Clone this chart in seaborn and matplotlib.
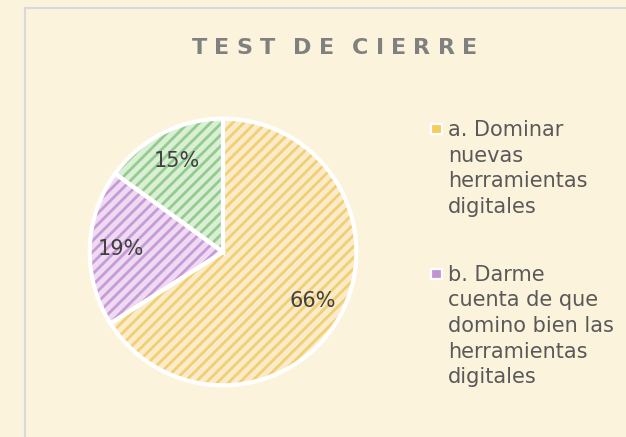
import matplotlib
matplotlib.use("Agg")
import matplotlib.pyplot as plt
import seaborn as sns
from matplotlib.lines import Line2D
from matplotlib.patches import Rectangle
from matplotlib.legend_handler import HandlerBase
from matplotlib.font_manager import FontProperties

sns.set_style("white")
plt.rcParams['font.family'] = ['DejaVu Sans']
plt.rcParams['hatch.linewidth'] = 2.0

# ---- data ----
title = "TEST DE CIERRE"
categories = ["a. Dominar\nnuevas\nherramientas\ndigitales",
              "b. Darme\ncuenta de que\ndomino bien las\nherramientas\ndigitales",
              "c."]
values = [66, 19, 15]
legend_shown = 2

face_colors = ["#FBEBCB", "#EEDBF1", "#DAEFD6"]
hatch_colors = ["#F0D070", "#C79AD8", "#94CC8E"]
marker_colors = ["#F5CB5C", "#C293D2", "#94CB8F"]
bg = "#FCF3DC"
LS = 1.35  # legend line spacing

W, H = 626, 437
fig = plt.figure(figsize=(W / 100, H / 100), dpi=100)
fig.patch.set_facecolor(bg)

# outer border (left/top visible)
fig.add_artist(Line2D([25 / W, 25 / W], [0, 1 - 8 / H], color="#D9D9D9", lw=1.5, transform=fig.transFigure))
fig.add_artist(Line2D([25 / W, 1], [1 - 8 / H, 1 - 8 / H], color="#D9D9D9", lw=1.5, transform=fig.transFigure))

# pie axes
cx, cy, r = 223, 252, 136
ax = fig.add_axes([(cx - r) / W, (H - cy - r) / H, 2 * r / W, 2 * r / H])
ax.set_facecolor("none")
wedges, texts, autotexts = ax.pie(
    values, startangle=90, counterclock=False, autopct="%1.0f%%",
    pctdistance=0.77, radius=1,
    wedgeprops=dict(linewidth=0, hatch="///"),
    textprops=dict(fontsize=15, color="#404040"))
for w, fc, hc in zip(wedges, face_colors, hatch_colors):
    w.set_facecolor(fc)
    w.set_edgecolor(hc)
for t in autotexts:
    t.set_zorder(5)
# white borders
ax.pie(values, startangle=90, counterclock=False, radius=1,
       colors=["none"] * len(values),
       wedgeprops=dict(edgecolor="white", linewidth=3, fill=False))
ax.set_xlim(-1.02, 1.02)
ax.set_ylim(-1.02, 1.02)
ax.set_aspect("equal")
ax.axis("off")


class TopSquare(HandlerBase):
    """Square marker aligned with the first line of a multi-line label."""
    def __init__(self, color, nlines):
        super().__init__()
        self.color = color
        self.nlines = nlines

    def create_artists(self, legend, orig_handle, xdescent, ydescent,
                       width, height, fontsize, trans):
        L = fontsize * (0.76 * LS + 0.208)
        s = 0.5 * fontsize
        yc = (self.nlines - 1) / 2 * L + 0.42 * fontsize
        xc = -xdescent + width / 2 + 1.5
        p = Rectangle((xc - s / 2, yc - s / 2), s, s, facecolor=self.color,
                      edgecolor="white", linewidth=1.6, transform=trans)
        return [p]


handles = [Rectangle((0, 0), 1, 1) for _ in range(legend_shown)]
hmap = {h: TopSquare(c, lab.count("\n") + 1)
        for h, c, lab in zip(handles, marker_colors, categories)}
leg = fig.legend(handles, categories[:legend_shown], handler_map=hmap,
                 loc="upper left", bbox_to_anchor=(428 / W, 1 - 120 / H),
                 frameon=False, fontsize=15, labelcolor="#595959",
                 borderpad=0, borderaxespad=0, handlelength=0.6,
                 handletextpad=0.35, labelspacing=2.3)
for t in leg.get_texts():
    t.set_linespacing(LS)

# title with letter spacing
renderer = fig.canvas.get_renderer()
fp = FontProperties(family="DejaVu Sans", weight="bold", size=16)
widths = [renderer.get_text_width_height_descent(ch, fp, ismath=False)[0] for ch in title]
widths = [w * 0.45 if ch == " " else w for ch, w in zip(title, widths)]
x0, x1, base = 192, 477, 54
spacing = (x1 - x0 - sum(widths)) / (len(title) - 1)
x = x0
for ch, w in zip(title, widths):
    if ch != " ":
        fig.text(x / W, 1 - base / H, ch, fontproperties=fp, color="#808080",
                 ha="left", va="baseline")
    x += w + spacing

fig.savefig("out.png", dpi=100, facecolor=bg)
